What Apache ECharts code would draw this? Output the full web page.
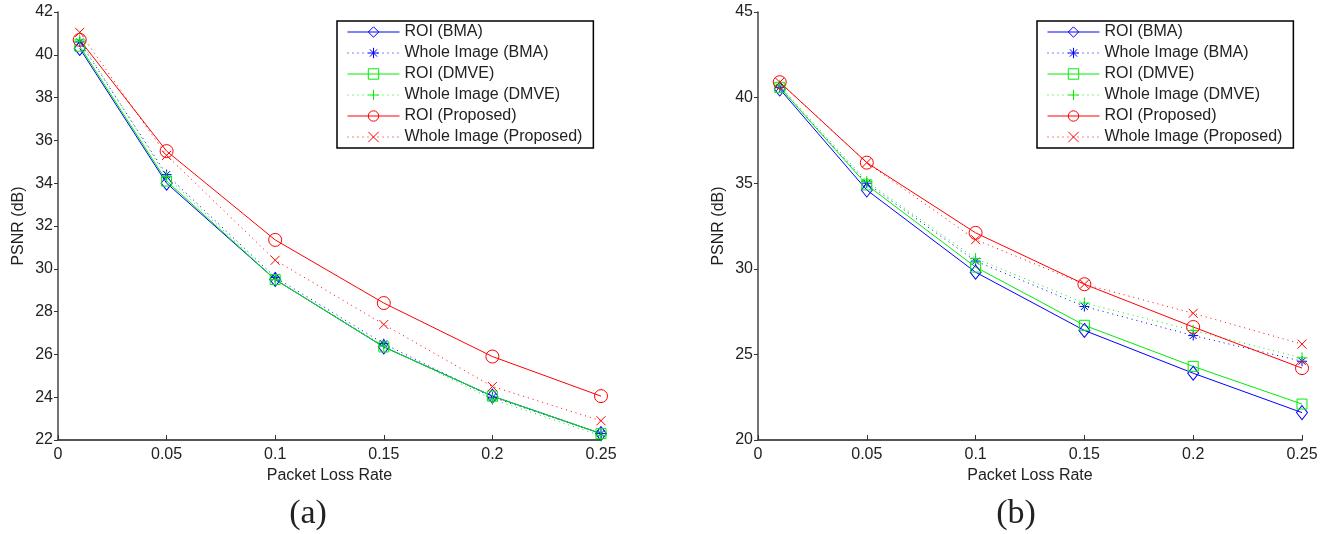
<!DOCTYPE html>
<html>
<head>
<meta charset="utf-8">
<script src="https://cdn.jsdelivr.net/npm/echarts@6/dist/echarts.min.js"></script>
<style>
  html, body { margin: 0; padding: 0; background: #fff; }
  #chart { width: 1328px; height: 534px; }
</style>
</head>
<body>
<div id="chart"></div>
<script>
// packet loss rates (x)
const lossRates = [0.01, 0.05, 0.1, 0.15, 0.2, 0.25];
const seriesNames = ['ROI (BMA)', 'Whole Image (BMA)', 'ROI (DMVE)', 'Whole Image (DMVE)', 'ROI (Proposed)', 'Whole Image (Proposed)'];

// (a) PSNR values
const roiBmaA = [40.3, 34.0, 29.5, 26.35, 24.05, 22.3];
const wholeBmaA = [40.6, 34.4, 29.6, 26.5, 24.0, 22.3];
const roiDmveA = [40.4, 34.1, 29.5, 26.35, 24.05, 22.3];
const wholeDmveA = [40.7, 34.3, 29.5, 26.4, 23.9, 22.2];
const roiPropA = [40.7, 35.5, 31.35, 28.4, 25.9, 24.05];
const wholePropA = [41.05, 35.3, 30.4, 27.4, 24.5, 22.9];

// (b) PSNR values
const roiBmaB = [40.5, 34.6, 29.8, 26.4, 23.9, 21.6];
const wholeBmaB = [40.6, 35.0, 30.45, 27.8, 26.1, 24.6];
const roiDmveB = [40.6, 34.9, 30.1, 26.7, 24.3, 22.1];
const wholeDmveB = [40.7, 35.1, 30.6, 28.0, 26.4, 24.8];
const roiPropB = [40.9, 36.2, 32.1, 29.1, 26.6, 24.2];
const wholePropB = [40.9, 36.2, 31.7, 29.1, 27.4, 25.6];

// axis ticks
const yTicksA = { min: 22, max: 42, interval: 2 };
const yTicksB = { min: 20, max: 45, interval: 5 };

const font = 'Liberation Sans, Arial, Helvetica, sans-serif';
const serif = '34px "Liberation Serif", "DejaVu Serif", serif';
const txt = '#222';
const dots = [1, 4];

// marker + line style per curve
const styles = [
    { color: '#0000ff', type: 'solid', symbol: 'diamond', size: [11, 14] },
    { color: '#0000ff', type: dots, symbol: 'path://M5,0L5,10M0,5L10,5M1.5,1.5L8.5,8.5M8.5,1.5L1.5,8.5', size: 10 },
    { color: '#00ee00', type: 'solid', symbol: 'rect', size: 10 },
    { color: '#00ee00', type: dots, symbol: 'path://M5,0L5,10M0,5L10,5', size: 11 },
    { color: '#ff0000', type: 'solid', symbol: 'circle', size: 13 },
    { color: '#ff0000', type: dots, symbol: 'path://M0,0L10,10M10,0L0,10', size: 9 },
];

function _zip(xs, ys) {
    return xs.map((x, i) => [x, ys[i]]);
}

function makeSeries(values, idx) {
    return values.map((vals, i) => ({
        name: seriesNames[i],
        type: 'line',
        xAxisIndex: idx,
        yAxisIndex: idx,
        data: _zip(lossRates, vals),
        symbol: styles[i].symbol,
        symbolSize: styles[i].size,
        showAllSymbol: true,
        lineStyle: { color: styles[i].color, width: 1, type: styles[i].type },
        itemStyle: { color: 'rgba(0,0,0,0)', borderColor: styles[i].color, borderWidth: 1 },
        emphasis: { disabled: true },
        animation: false,
    }));
}

function makeXAxis(idx) {
    return {
        type: 'value',
        gridIndex: idx,
        min: 0,
        max: 0.25,
        interval: 0.05,
        name: 'Packet Loss Rate',
        nameLocation: 'middle',
        nameGap: 27,
        nameTextStyle: { fontSize: 16, color: txt, fontFamily: font },
        axisLine: { lineStyle: { color: '#555', width: 2 } },
        axisTick: { inside: true, length: 5, lineStyle: { color: '#333' } },
        axisLabel: { fontSize: 16, color: txt, fontFamily: font, margin: 7 },
        splitLine: { show: false },
    };
}

function makeYAxis(idx, ticks) {
    return {
        type: 'value',
        gridIndex: idx,
        min: ticks.min,
        max: ticks.max,
        interval: ticks.interval,
        name: 'PSNR (dB)',
        nameLocation: 'middle',
        nameGap: 31,
        nameTextStyle: { fontSize: 16, color: txt, fontFamily: font },
        axisLine: { show: true, lineStyle: { color: '#444', width: 1.5 } },
        axisTick: { show: true, inside: false, length: 4, lineStyle: { color: '#333' } },
        axisLabel: { fontSize: 16, color: txt, fontFamily: font, margin: 5 },
        splitLine: { show: false },
    };
}

function makeLegend(left) {
    return {
        orient: 'vertical',
        left: left,
        top: 21,
        data: seriesNames,
        itemWidth: 52,
        itemHeight: 13,
        itemGap: 5,
        padding: [3, 11, 3, 10],
        borderColor: '#000',
        borderWidth: 1.5,
        backgroundColor: '#fff',
        lineStyle: { width: 1 },
        itemStyle: { borderWidth: 1 },
        textStyle: { fontSize: 16, color: txt, fontFamily: font },
        selectedMode: false,
    };
}

const chart = echarts.init(document.getElementById('chart'), null, { renderer: 'canvas' });
chart.setOption({
    backgroundColor: '#fff',
    animation: false,
    grid: [
        { left: 58, top: 12, width: 543, height: 428 },
        { left: 758, top: 12, width: 544, height: 428 },
    ],
    xAxis: [makeXAxis(0), makeXAxis(1)],
    yAxis: [makeYAxis(0, yTicksA), makeYAxis(1, yTicksB)],
    legend: [makeLegend(337), makeLegend(1037)],
    series: [
        ...makeSeries([roiBmaA, wholeBmaA, roiDmveA, wholeDmveA, roiPropA, wholePropA], 0),
        ...makeSeries([roiBmaB, wholeBmaB, roiDmveB, wholeDmveB, roiPropB, wholePropB], 1),
    ],
    graphic: [
        { type: 'text', x: 308, y: 514, style: { text: '(a)', font: serif, fill: txt, align: 'center', verticalAlign: 'middle' } },
        { type: 'text', x: 1016, y: 514, style: { text: '(b)', font: serif, fill: txt, align: 'center', verticalAlign: 'middle' } },
    ],
});
</script>
</body>
</html>
